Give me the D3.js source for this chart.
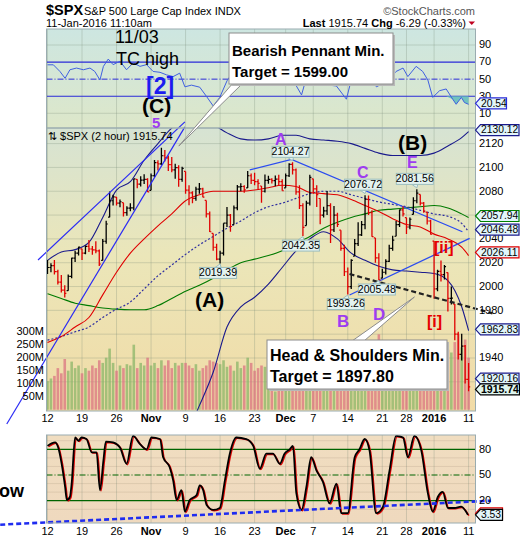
<!DOCTYPE html>
<html><head><meta charset="utf-8">
<script src="https://cdn.jsdelivr.net/npm/d3@7"></script>
<style>body{margin:0;background:#fff}svg{display:block;font-family:Arial,"Liberation Sans",sans-serif}</style>
</head><body><svg id="c" width="520" height="540"></svg>
<script>
// ---------------- DATA ----------------
const tradingDays = ["10-12","10-13","10-14","10-15","10-16","10-19","10-20","10-21","10-22","10-23","10-26","10-27","10-28","10-29","10-30",
"11-02","11-03","11-04","11-05","11-06","11-09","11-10","11-11","11-12","11-13","11-16","11-17","11-18","11-19","11-20","11-23","11-24","11-25","11-27","11-30",
"12-01","12-02","12-03","12-04","12-07","12-08","12-09","12-10","12-11","12-14","12-15","12-16","12-17","12-18","12-21","12-22","12-23","12-24","12-28","12-29","12-30","12-31",
"01-04","01-05","01-06","01-07","01-08","01-11"];
const singleBarDays = ["11-27","12-24","01-11"];
const tickDays = ["10-12","10-19","10-26","11-02","11-09","11-16","11-23","12-01","12-07","12-14","12-21","12-28","01-04","01-11"];
const tickLabels = ["12","19","26","Nov","9","16","23","Dec","7","14","21","28","2016","11"];
const boldTicks = ["Nov","Dec","2016"];

const barHigh = [2022.3,2019.5,2022.3,2014.0,2009.6,2001.0,2010.0,2024.2,2030.0,2033.5,2031.7,2034.5,2039.1,2034.0,2038.0,2031.0,2040.0,2055.2,2079.7,2077.0,
2075.1,2073.0,2070.4,2067.5,2070.0,2090.4,2090.0,2092.5,2094.3,2091.0,2095.0,2106.2,2106.0,2116.5,2114.6,2110.0,2108.8,2103.0,2101.9,2100.5,
2096.6,2085.0,2080.0,2083.7,2086.9,2083.0,2072.3,2063.0,2044.6,2036.0,2030.0,2053.2,2066.7,2061.0,2068.0,2085.3,2086.7,2085.0,2097.1,2095.0,
2095.6,2090.0,2084.4,2094.1,2093.0,2091.0,2093.3,2093.8,2090.0,2095.0,2103.4,2104.3,2099.0,2085.0,2070.0,2072.0,2093.8,2090.4,2085.0,2073.9,
2067.0,2080.3,2070.0,2067.7,2062.0,2047.3,2035.0,2016.0,2022.9,2040.0,2053.9,2055.0,2076.7,2076.4,2064.0,2040.8,2028.0,2015.0,2022.9,2035.0,
2042.7,2055.0,2064.7,2067.4,2057.8,2058.0,2075.0,2081.6,2077.3,2071.0,2062.5,2056.0,2038.2,2014.0,2021.9,2018.0,2011.7,2000.0,1985.3,1962.0,
1960.4,1951.0,1935.7];
const barLow = [2010.5,2012.0,2010.0,2001.8,1995.0,1990.7,1996.5,2007.0,2020.5,2026.0,2022.3,2027.0,2029.0,2026.6,2028.0,2017.2,2021.9,2036.0,2058.2,2068.0,
2068.0,2066.5,2058.8,2059.5,2063.1,2064.0,2082.6,2084.0,2086.0,2079.3,2080.8,2092.0,2097.5,2102.0,2105.0,2097.0,2096.0,2090.4,2083.7,2088.0,
2078.0,2068.2,2069.9,2072.0,2078.0,2074.9,2058.0,2045.7,2030.0,2022.0,2019.4,2026.0,2050.0,2045.9,2052.0,2064.0,2080.0,2078.8,2082.8,2086.0,
2085.0,2081.4,2070.3,2079.0,2086.3,2086.5,2084.1,2085.0,2080.4,2082.9,2092.0,2094.0,2077.1,2065.0,2042.4,2051.2,2068.0,2078.0,2066.8,2052.3,
2058.0,2060.0,2036.5,2045.7,2050.0,2030.0,2008.8,1993.3,1998.0,2025.6,2034.0,2042.4,2048.0,2060.0,2041.7,2020.0,2005.5,2007.0,2010.0,2020.5,
2030.0,2042.2,2050.0,2058.7,2044.2,2048.0,2060.5,2070.0,2068.0,2062.0,2052.0,2043.6,1989.7,1996.0,2004.2,2006.0,1979.1,1985.0,1955.0,1938.8,
1938.0,1918.5,1912.0];
const barClose = [2016.0,2017.5,2012.5,2003.7,1997.0,1994.2,2008.5,2023.9,2028.0,2033.1,2028.0,2033.7,2031.5,2030.8,2030.0,2018.9,2038.0,2052.5,2072.0,2075.2,
2070.0,2071.2,2062.0,2065.9,2066.0,2090.4,2086.0,2089.4,2090.0,2079.4,2093.0,2104.1,2103.0,2109.8,2108.0,2102.3,2098.0,2099.9,2090.0,2099.2,
2081.0,2078.6,2074.0,2081.7,2082.0,2075.0,2061.0,2046.0,2033.0,2023.0,2028.0,2053.2,2060.0,2050.4,2066.0,2083.6,2084.0,2081.2,2093.0,2089.2,
2088.0,2086.6,2080.0,2089.1,2090.0,2088.9,2090.1,2088.0,2080.4,2093.0,2102.6,2098.0,2079.5,2068.0,2049.6,2070.0,2091.7,2082.0,2077.1,2060.0,
2063.6,2068.0,2047.6,2060.0,2052.2,2032.0,2012.4,2000.0,2021.9,2036.0,2043.4,2052.0,2073.1,2062.0,2041.9,2024.0,2005.6,2012.0,2021.2,2032.0,
2039.0,2052.0,2064.3,2061.0,2050.0,2056.5,2072.0,2078.4,2070.0,2063.4,2055.0,2043.9,1998.0,2012.7,2010.0,2016.7,1990.0,1990.3,1960.0,1943.1,
1950.0,1922.0,1915.7];
const firstOpen = 2015.65;
const volumeM = [110,120,130,160,140,195,150,185,160,170,140,160,150,170,160,190,180,200,235,180,
150,170,160,175,170,250,160,180,170,200,170,180,160,190,170,190,160,180,170,180,
180,170,160,175,150,160,170,190,185,180,175,190,165,170,150,185,160,170,200,180,
150,160,170,165,130,120,70,150,190,170,180,160,200,190,210,180,200,170,190,180,
175,190,200,170,180,190,210,210,205,190,200,190,230,180,200,230,290,180,170,160,
170,170,160,80,130,140,140,150,120,130,130,160,250,220,200,190,230,220,260,290,
240,270,200];

// overlays sampled every 4 bars (bar index)
const overlayT = [0,4,8,12,16,20,24,28,32,36,40,44,48,52,56,60,64,68,72,76,80,84,88,92,96,100,104,108,112,116,120,122];
const maRed = [1953,1958,1966,1974,1993,2012,2028,2040,2051,2061,2072,2077,2080,2080,2080,2081,2083,2085,2084,2079,2078,2077,2073,2068,2063,2057,2052,2050,2044,2040,2033,2026];
const maGreen = [1994,1990,1986,1984,1982,1981,1980.5,1980.5,1984,1990,1996,2001,2007,2014,2020,2023,2026,2030,2036,2042,2049,2054,2058,2061,2064,2065,2066,2067,2068,2066,2061,2058];
const maDotted = [1955,1958,1962,1966,1974,1981,1987,1998,2009,2018,2027,2035,2042,2049,2055,2062,2067,2070,2074,2078,2080,2080,2077,2074,2071,2069,2067,2064,2061,2059,2053,2046];
const bandUpper = [2022,2029,2031,2037,2058,2081,2088,2106,2120,2133,2140,2140,2136,2129,2124,2123,2124,2127,2127,2124,2123,2122,2120,2116,2112,2110,2110,2110,2112,2118,2125,2130];
const bandLower = [1870,1868,1866,1864,1862,1860,1858,1858,1860,1865,1875,1900,1928,1966,1983,1991,2002,2016,2030,2040,2046,2040,2028,2022,2017,2014,2013,2012,2011,2005,1983,1963];

const rsiT = [0,1.7,3.6,5.1,6.5,8.4,10.4,12.3,13.7,15.2,16.2,17.6,19,21,22.9,24.8,26.8,28.7,30.6,32.6,34.5,36.4,38.3,39.8,41.7,44.1,46.1,48,49.9,52,55,58,61,64,67,70,71.1,73.6,75,77.9,80.8,83.7,86.6,88,90.4,93.3,95.3,98.1,101,103,104.4,106.8,108.7,110.2,111.6,113.6,115.5,117.4,118.4,119.9,120.8,122];
const rsiV = [66.8,66.8,59,51,61,63,61,63,59,49,65,73.5,67,71,61,69,65,67,59,58,55,53,57,41,43,40.6,29.6,18.6,28.6,48,66,72,68,62,60,55,49,31.5,51.5,50,43.3,42,26.5,49,47,51.7,41,47,59,63,53,65,59,49,28.6,36.5,38.5,26.5,20.6,28.6,22.6,20.5];
const rsiTicks = [90,70,50,30,10];

const stochT = [0,1.2,2.2,3.1,4.1,5.1,5.6,6.5,7,8,8.9,9.9,11.3,12.8,14.2,15.2,16.2,16.9,19,21,22.9,24.8,26.8,28.7,30.1,32.6,33.5,35.4,36.4,37.4,38.8,39.8,41.2,43.2,44.1,45.1,46.1,48,49.9,51.4,52.8,54.7,57.6,59.6,61.5,63.4,65.3,67.3,68.7,70.2,71.1,72.1,73.6,75,76.4,77.9,79.8,81.7,83.7,85.1,87,89,90.4,91.9,93.3,95.2,97.2,99.1,101,103,104.4,106.3,108.3,110.2,111.6,113.1,114.5,116,117.9,119.8,121.8];
const stochK = [84,86.9,88,82,63,36,20.8,24.6,40,93.8,90,93.8,92,76.5,76.5,32.3,67,89,88,82,63,95.7,86,80,93.8,92,70.7,59,43.8,20.8,32.3,7.3,20.8,26.5,38,32.3,15,9.2,11.5,43.8,74.6,93.8,92,84,57.3,75,75,63,75,80,84,28.5,9.2,36,70.7,55.4,41.9,17,40,5.4,5.4,70.7,80,92,78.5,5.4,13.1,55.4,95.7,93.8,70.7,95.7,78.5,28.5,7.3,24.6,30.4,11.5,11.5,13.1,3.5];
const stochTicks = [80,50,20];

const priceGrid = [2120,2100,2080,2060,2040,2020,2000,1980,1960,1940,1920];
const priceLabels = [2120,2100,2080,2040,2020,2000,1980,1940];   // 2060/1960/1920 sit under value tags
const volTicks = [300,250,200,150,100,50];

// trend lines (bar index, price)
const channelUpper = [{t:-2.75,p:2022.3},{t:39.8,p:2138.2}];
const channelLower = [{t:-11.8,p:1884.6},{t:39.8,p:2134}];
const pennantUpper = [{t:58.6,p:2097.9},{t:70.7,p:2106.7},{t:120.2,p:2046.0}];
const pennantLower = [{t:87.5,p:1992.9},{t:122.3,p:2040.5}];
const neckline = [{t:87.5,p:2010.5},{t:128.9,p:1977.5}];
const stochTrend = [{t:-13.7,v:-8},{t:128.5,v:20}];

const pointLabels = [
 {bar:50,price:2019.39,pos:"below"},{bar:71,price:2104.27,pos:"above"},{bar:74,price:2042.35,pos:"below"},
 {bar:92,price:2076.72,pos:"above"},{bar:107,price:2081.56,pos:"above"},{bar:96,price:2005.48,pos:"below"},{bar:87,price:1993.26,pos:"below"}];
const lastTags = [
 {v:2130.12,color:"#1a1a8c"},{v:2057.94,color:"#008000"},{v:2046.48,color:"#1a1a8c"},
 {v:2026.11,color:"#e00000"},{v:1962.83,color:"#1a1a8c"}];

// ---------------- LAYOUT ----------------
const L = 46.5, R = 475.5;
const rsiTop = 29, rsiBot = 128, mainTop = 128, mainBot = 411, stTop = 435, stBot = 523;

const svg = d3.select("#c");
svg.append("rect").attr("width",520).attr("height",540).attr("fill","#fff");

const barDay = [];
tradingDays.forEach(d => { barDay.push(d); if (!singleBarDays.includes(d)) barDay.push(d); });
const bars = barDay.map((d,i) => ({
  i, day:d, h:barHigh[i], l:barLow[i], c:barClose[i],
  o: i===0 ? firstOpen : barClose[i-1], v: volumeM[i]
}));
bars.forEach(b=>{ b.up = b.c >= b.o; });
const tickBars = tickDays.map(d => barDay.indexOf(d));

const x = d3.scaleLinear().domain([0,122]).range([47.5,468.6]);
const yP = d3.scaleLinear().domain([1940,2120]).range([358,143.6]);
const yV = d3.scaleLinear().domain([0,300]).range([409.7,331.7]);
const yR = d3.scaleLinear().domain([10,90]).range([113.3,45]);
const yS = d3.scaleLinear().domain([20,80]).range([500.7,449.3]);

const defs = svg.append("defs");
function grad(id, stops){
  const g = defs.append("linearGradient").attr("id",id).attr("x1",0).attr("y1",0).attr("x2",0).attr("y2",1);
  stops.forEach(s=>g.append("stop").attr("offset",s[0]).attr("stop-color",s[1]));
}
grad("gRsi",[[0,"#cde6e1"],[1,"#dde7c9"]]);
grad("gMain",[[0,"#d6e3d3"],[0.45,"#ebe6b9"],[1,"#f1dba6"]]);
grad("gSt",[[0,"#f0ddc0"],[1,"#efd9be"]]);
function clip(id,y0,y1){
  defs.append("clipPath").attr("id",id).append("rect").attr("x",L).attr("y",y0).attr("width",R-L).attr("height",y1-y0);
}
clip("cRsi",rsiTop,rsiBot); clip("cMain",mainTop,mainBot); clip("cSt",stTop,stBot);

svg.append("rect").attr("x",L).attr("y",rsiTop).attr("width",R-L).attr("height",rsiBot-rsiTop).attr("fill","url(#gRsi)");
svg.append("rect").attr("x",L).attr("y",mainTop).attr("width",R-L).attr("height",mainBot-mainTop).attr("fill","url(#gMain)");
svg.append("rect").attr("x",L).attr("y",stTop).attr("width",R-L).attr("height",stBot-stTop).attr("fill","url(#gSt)");

const gridCol = "rgba(120,135,120,0.28)";
[[rsiTop,rsiBot],[mainTop,mainBot],[stTop,stBot]].forEach(([a,b])=>{
  svg.append("g").selectAll("line").data(tickBars).join("line")
    .attr("x1",d=>x(d)).attr("x2",d=>x(d)).attr("y1",a).attr("y2",b)
    .attr("stroke",gridCol).attr("stroke-width",1);
});
svg.append("g").selectAll("line").data(priceGrid).join("line")
  .attr("x1",L).attr("x2",R).attr("y1",d=>yP(d)).attr("y2",d=>yP(d)).attr("stroke",gridCol);
svg.append("g").selectAll("line").data([10,30,40,60,70,90]).join("line")
  .attr("x1",L).attr("x2",R).attr("y1",d=>yS(d)).attr("y2",d=>yS(d)).attr("stroke","rgba(120,100,80,0.15)");
svg.append("g").selectAll("line").data([90,10]).join("line")
  .attr("x1",L).attr("x2",R).attr("y1",d=>yR(d)).attr("y2",d=>yR(d)).attr("stroke",gridCol);

// ---------------- RSI PANEL ----------------
const gR = svg.append("g").attr("clip-path","url(#cRsi)");
gR.selectAll("line.lv").data([70,30]).join("line")
  .attr("x1",L).attr("x2",R).attr("y1",d=>yR(d)).attr("y2",d=>yR(d))
  .attr("stroke","#2a2ad8").attr("stroke-width",1.1);
gR.append("line").attr("x1",L).attr("x2",R).attr("y1",yR(50)).attr("y2",yR(50))
  .attr("stroke","#2a2ad8").attr("stroke-dasharray","6,2,1,2");
const rsiPts = rsiT.map((t,i)=>({t,v:rsiV[i]}));
gR.append("path").datum(rsiPts.filter(d=>d.t>=113.6))
  .attr("d",d3.area().x(d=>x(d.t)).y0(yR(30)).y1(d=>yR(Math.min(d.v,30))))
  .attr("fill","#5fbcbc").attr("opacity",0.85);
gR.append("path").datum(rsiPts)
  .attr("d",d3.line().x(d=>x(d.t)).y(d=>yR(d.v)))
  .attr("fill","none").attr("stroke","#3f5fe0").attr("stroke-width",1);

// ---------------- MAIN PANEL ----------------
const gM = svg.append("g").attr("clip-path","url(#cMain)");
const bw = 2.6;
gM.append("g").selectAll("rect").data(bars).join("rect")
  .attr("x",d=>x(d.i)-bw/2).attr("width",bw)
  .attr("y",d=>yV(d.v)).attr("height",d=>yV(0)-yV(d.v))
  .attr("fill",d=>d.up?"#86b466":"#d9707f").attr("opacity",0.72);

const ovLine = (arr)=>d3.line().curve(d3.curveMonotoneX).x((d,i)=>x(overlayT[i])).y(d=>yP(d))(arr);
gM.append("path").attr("d",ovLine(bandUpper)).attr("fill","none").attr("stroke","#1a1a8c").attr("stroke-width",1.1);
gM.append("path").attr("d",ovLine(bandLower)).attr("fill","none").attr("stroke","#1a1a8c").attr("stroke-width",1.1);
gM.append("path").attr("d",ovLine(maGreen)).attr("fill","none").attr("stroke","#007a00").attr("stroke-width",1.1);
gM.append("path").attr("d",ovLine(maDotted)).attr("fill","none").attr("stroke","#2e2ea0").attr("stroke-width",1.2).attr("stroke-dasharray","2,2");
gM.append("path").attr("d",ovLine(maRed)).attr("fill","none").attr("stroke","#e00000").attr("stroke-width",1.1);

const tl = d3.line().x(d=>x(d.t)).y(d=>yP(d.p));
gM.append("path").attr("d",tl(pennantUpper)).attr("fill","none").attr("stroke","#2b4cf0").attr("stroke-width",1.3);
gM.append("path").attr("d",tl(pennantLower)).attr("fill","none").attr("stroke","#2b4cf0").attr("stroke-width",1.3);

const gB = gM.append("g");
bars.forEach(b=>{
  const col = b.up ? "#000" : "#e00000";
  const cx = x(b.i);
  const o = Math.max(b.l, Math.min(b.h, b.o));
  gB.append("line").attr("x1",cx).attr("x2",cx).attr("y1",yP(b.h)).attr("y2",yP(b.l)).attr("stroke",col).attr("stroke-width",1.3);
  gB.append("line").attr("x1",cx-1.6).attr("x2",cx).attr("y1",yP(o)).attr("y2",yP(o)).attr("stroke",col).attr("stroke-width",1.2);
  gB.append("line").attr("x1",cx).attr("x2",cx+1.6).attr("y1",yP(b.c)).attr("y2",yP(b.c)).attr("stroke",col).attr("stroke-width",1.2);
});

svg.append("path").attr("d",tl(channelUpper)).attr("fill","none").attr("stroke","#2a2af5").attr("stroke-width",1.2);
svg.append("path").attr("d",tl(channelLower)).attr("fill","none").attr("stroke","#2a2af5").attr("stroke-width",1.2);
svg.append("path").attr("d",tl(neckline)).attr("fill","none").attr("stroke","#222").attr("stroke-width",2.2).attr("stroke-dasharray","5,3");

pointLabels.forEach(pl=>{
  const cx = x(pl.bar)-2, py = yP(pl.price);
  const w = 37, h = 11;
  const top = pl.pos==="above" ? py-5-h : py+4;
  const g = svg.append("g");
  const tipY = pl.pos==="above" ? top+h : top;
  const tri = pl.pos==="above"
    ? [[cx-3,tipY],[cx+3,tipY],[cx+2,tipY+3.5]]
    : [[cx-3,tipY],[cx+3,tipY],[cx+2,tipY-3.5]];
  g.append("polygon").attr("points",tri.map(p=>p.join(",")).join(" ")).attr("fill","#e3f2ef").attr("stroke","#9bbdbd");
  g.append("rect").attr("x",cx-w/2).attr("y",top).attr("width",w).attr("height",h)
    .attr("fill","#e3f2ef").attr("stroke","#9bbdbd").attr("stroke-width",1);
  g.append("text").attr("x",cx).attr("y",top+h/2+0.5).attr("text-anchor","middle").attr("dominant-baseline","middle")
    .attr("font-size",10.5).attr("fill","#000").text(pl.price.toFixed(2));
});

// ---------------- STOCH PANEL ----------------
const gS = svg.append("g").attr("clip-path","url(#cSt)");
gS.selectAll("line.sl").data([80,20]).join("line")
  .attr("x1",L).attr("x2",R).attr("y1",d=>yS(d)).attr("y2",d=>yS(d)).attr("stroke","#006400").attr("stroke-width",1.2);
gS.append("line").attr("x1",L).attr("x2",R).attr("y1",yS(50)).attr("y2",yS(50))
  .attr("stroke","#006400").attr("stroke-dasharray","6,2,1,2");
const stPts = stochT.map((t,i)=>({t,v:stochK[i]}));
const stLine = d3.line().curve(d3.curveMonotoneX).x(d=>x(d.t)).y(d=>yS(d.v));
gS.append("path").datum(stPts).attr("d",stLine).attr("transform","translate(1,0.8)")
  .attr("fill","none").attr("stroke","#e00000").attr("stroke-width",1.5);
gS.append("path").datum(stPts).attr("d",stLine).attr("fill","none").attr("stroke","#000").attr("stroke-width",1.8);
svg.append("path").datum(stochTrend).attr("d",d3.line().x(d=>x(d.t)).y(d=>yS(d.v)))
  .attr("fill","none").attr("stroke","#1f2cf0").attr("stroke-width",2.6).attr("stroke-dasharray","5,3");

// ---------------- FRAMES ----------------
[[rsiTop,rsiBot],[mainTop,mainBot],[stTop,stBot]].forEach(([a,b])=>{
  svg.append("rect").attr("x",L).attr("y",a).attr("width",R-L).attr("height",b-a)
    .attr("fill","none").attr("stroke","#9aacb0").attr("stroke-width",1);
});

// ---------------- AXES TEXT ----------------
const txt = (x0,y0,s,size,opt={})=>{
  const t = svg.append("text").attr("x",x0).attr("y",y0).attr("font-size",size).attr("fill",opt.fill||"#000")
    .attr("font-weight",opt.bold?"bold":"normal").attr("text-anchor",opt.anchor||"start").text(s);
  if (opt.mid) t.attr("dominant-baseline","middle");
  return t;
};
rsiTicks.forEach(v=>txt(479,yR(v)+0.5,String(v),11,{mid:true}));
priceLabels.forEach(v=>txt(479,yP(v)+0.5,String(v),11,{mid:true}));
stochTicks.forEach(v=>txt(479,yS(v)+0.5,String(v),11,{mid:true}));
volTicks.forEach(v=>txt(44,yV(v)+0.5,v+"M",11,{mid:true,anchor:"end"}));
tickBars.forEach((b,i)=>{
  const lab = tickLabels[i], bold = boldTicks.includes(lab);
  txt(x(b),421.5,lab,11,{anchor:"middle",bold});
  txt(x(b),534.5,lab,11,{anchor:"middle",bold});
});

function tag(yc,label,color,opt={}){
  const x0 = 475.5, w = opt.w||43.5, hh = 5.5;
  const g = svg.append("g");
  g.append("polygon").attr("points",[[x0,yc],[x0+5,yc-hh],[x0+w,yc-hh],[x0+w,yc+hh],[x0+5,yc+hh]].map(p=>p.join(",")).join(" "))
    .attr("fill",opt.fill||"#e2f5fa").attr("stroke",color).attr("stroke-width",1.2);
  if (label) g.append("text").attr("x",x0+5.5).attr("y",yc+0.5).attr("dominant-baseline","middle")
    .attr("font-size",opt.size||10.3).attr("font-weight",opt.bold?"bold":"normal").attr("fill","#000").text(label);
}
tag(yR(20.54)-1,"20.54","#2a2ad8",{w:31});
lastTags.forEach(t=>tag(yP(t.v)-(t.v===2026.11?3:1.5),t.v.toFixed(2),t.color));
tag(yP(1920.16)-3,"1920.16","#1a1a8c");
tag(yP(1915.74)+2.5,"1915.74","#000",{bold:true,fill:"#dff6ef",w:44,size:10.5});
tag(yS(3.53)-1.5,"","#e00000",{w:27});
tag(yS(3.53),"3.53","#000",{w:27});

// ---------------- HEADER ----------------
txt(46,15,"$SPX",14.5,{bold:true});
txt(84,15,"S&P 500 Large Cap Index  INDX",11);
txt(475,15,"\u00a9StockCharts.com",11,{anchor:"end",fill:"#555"});
txt(46,26.5,"11-Jan-2016 11:10am",11);
const lt = svg.append("text").attr("x",466).attr("y",26.5).attr("text-anchor","end").attr("font-size",11);
lt.append("tspan").attr("font-weight","bold").text("Last ");
lt.append("tspan").text("1915.74 ");
lt.append("tspan").attr("font-weight","bold").text("Chg ");
lt.append("tspan").text("-6.29 (-0.33%)");
svg.append("polygon").attr("points","468.5,21.5 475,21.5 471.75,25").attr("fill","#c00020");

txt(48,139.5,"\u21c5 $SPX (2 hour) 1915.74",11);

// ---------------- ANNOTATIONS ----------------
const purple = "#9d3cf0";
txt(115,43,"11/03",18);
txt(116,65,"TC high",18);
txt(146,94,"[2]",23,{bold:true,fill:"#1c1cf0"});
txt(142,113,"(C)",21,{bold:true});
txt(152,128,"5",15,{bold:true,fill:purple});
txt(275,145,"A",16,{bold:true,fill:purple});
txt(398,150,"(B)",21,{bold:true});
txt(357,178,"C",16,{bold:true,fill:purple});
txt(407,168,"E",16,{bold:true,fill:purple});
txt(337,327,"B",17,{bold:true,fill:purple});
txt(373,320,"D",17,{bold:true,fill:purple});
txt(434,253,"[ii]",16,{bold:true,fill:"#e60000"});
txt(427,327,"[i]",16,{bold:true,fill:"#e60000"});
txt(195,307,"(A)",21,{bold:true});
txt(-1,497,"ow",18,{bold:true});

function callout(bx,by,bw2,bh,tailA,tailB,tip,lines){
  const g = svg.append("g");
  g.append("polygon").attr("points",[tailA,tailB,tip].map(p=>p.join(",")).join(" "))
    .attr("fill","#fff").attr("stroke","#8c8c8c").attr("stroke-width",1);
  g.append("rect").attr("x",bx+2).attr("y",by+2).attr("width",bw2).attr("height",bh).attr("fill","#b8b8b8");
  g.append("rect").attr("x",bx).attr("y",by).attr("width",bw2).attr("height",bh).attr("fill","#fff").attr("stroke","#8c8c8c");
  lines.forEach(l=>g.append("text").attr("x",l.x).attr("y",l.y).attr("font-size",l.size).attr("font-weight","bold").text(l.s));
}
callout(229,33,164,51,[233,83],[243,83],[x(38.05),yP(2118)],
  [{x:232,y:56,size:15,s:"Bearish Pennant Min."},{x:232,y:77,size:15,s:"Target = 1599.00"}]);
callout(267,340,180,49,[352,341],[364,341],[x(106.3),yP(1991.2)],
  [{x:270,y:361,size:16,s:"Head & Shoulders Min."},{x:270,y:382,size:16,s:"Target = 1897.80"}]);
</script></body></html>
